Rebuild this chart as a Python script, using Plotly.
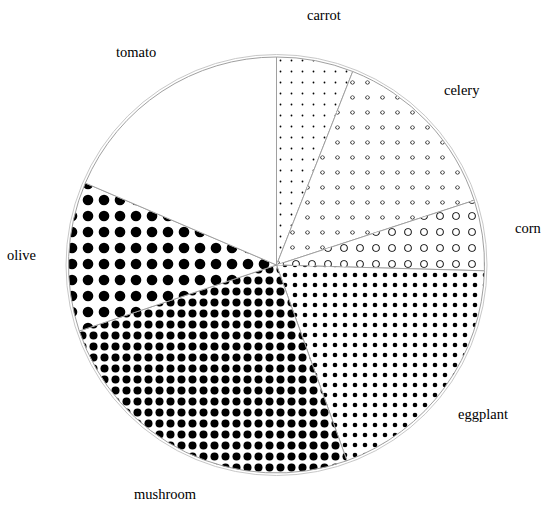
import math
import plotly.graph_objects as go

labels = ["carrot", "celery", "corn", "eggplant", "mushroom", "olive", "tomato"]
values = [21.5, 50.4, 19.7, 68.6, 91.3, 41.7, 66.8]

# pattern styling (square-grid approximation of the dotted fills)
dot_shape = [".", ".", ".", ".", ".", ".", ""]
dot_size = [11, 15, 16, 10, 11, 16, 10]
dot_solidity = [0.021, 0.062, 0.177, 0.166, 0.42, 0.345, 0.1]
hole_shape = ["", ".", ".", "", "", "", ""]
hole_solidity = [0.01, 0.027, 0.103, 0.01, 0.01, 0.01, 0.01]

W, H = 543, 508
ml, mr, mt, mb = 68, 58, 57, 35
pw, ph = W - ml - mr, H - mt - mb
R = min(pw, ph) / 2
LABEL_R = 1.225

fig = go.Figure()
fig.add_trace(go.Pie(
    labels=labels, values=values, sort=False, direction="clockwise", rotation=0,
    textinfo="none", hoverinfo="label+value",
    marker=dict(
        colors=["white"] * len(labels),
        line=dict(color="#a0a0a0", width=1),
        pattern=dict(shape=dot_shape, size=dot_size, solidity=dot_solidity,
                     fgcolor="black", bgcolor="white", fillmode="replace", fgopacity=1),
    ),
    showlegend=False,
))
fig.add_trace(go.Pie(
    labels=labels, values=values, sort=False, direction="clockwise", rotation=0,
    textinfo="none", hoverinfo="skip",
    marker=dict(
        colors=["rgba(0,0,0,0)"] * len(labels),
        line=dict(color="rgba(0,0,0,0)", width=0),
        pattern=dict(shape=hole_shape, size=dot_size, solidity=hole_solidity,
                     fgcolor="white", bgcolor="rgba(0,0,0,0)", fillmode="overlay",
                     fgopacity=1),
    ),
    showlegend=False,
))

# labels placed radially outside the pie, computed from the data
total = sum(values)
cum = 0.0
annotations = []
for lab, v in zip(labels, values):
    mid = (cum + v / 2) / total * 2 * math.pi
    cum += v
    dx = LABEL_R * R * math.sin(mid)
    dy = LABEL_R * R * math.cos(mid)
    annotations.append(dict(
        x=0.5 + dx / pw, y=0.5 + dy / ph, xref="paper", yref="paper",
        text=lab, showarrow=False, xanchor="center", yanchor="middle",
        font=dict(family="Liberation Serif, Times New Roman, serif", size=14.5, color="black"),
    ))

ring = R + 2.5
fig.update_layout(
    width=W, height=H,
    margin=dict(l=ml, r=mr, t=mt, b=mb),
    paper_bgcolor="white", plot_bgcolor="white",
    annotations=annotations,
    shapes=[dict(type="circle", xref="paper", yref="paper",
                 x0=0.5 - ring / pw, x1=0.5 + ring / pw,
                 y0=0.5 - ring / ph, y1=0.5 + ring / ph,
                 line=dict(color="#c8c8c8", width=1), layer="above")],
)

fig.write_html("out.html", config={"displayModeBar": False},
               post_script="document.body.style.margin='0';")
